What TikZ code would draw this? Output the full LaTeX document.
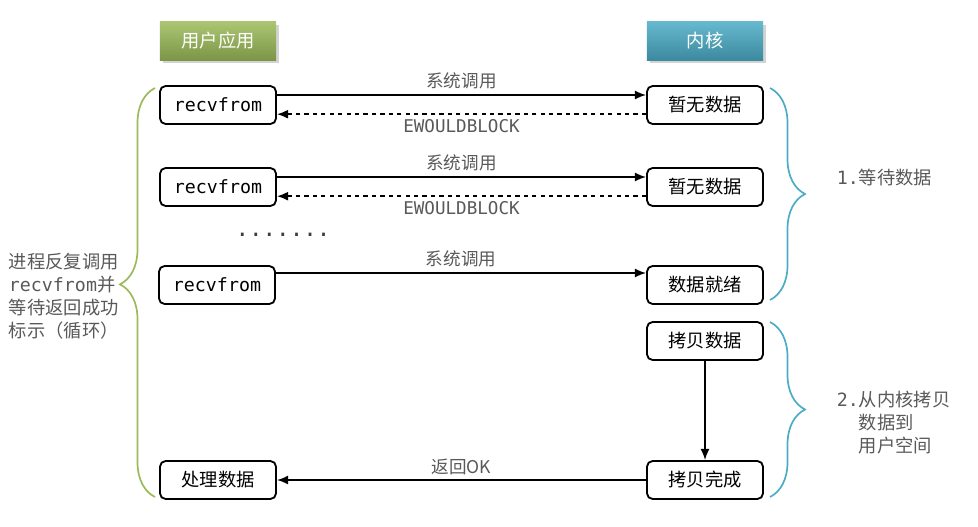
\documentclass[tikz,border=0pt]{standalone}
\usepackage{fontspec}
\setmainfont{Noto Sans CJK SC}
\setmonofont{DejaVu Sans Mono}
\usepackage{tikz}
\usetikzlibrary{shadows,decorations.pathreplacing,arrows.meta}

\definecolor{appgreen}{HTML}{9BBB59}
\definecolor{kerblue}{HTML}{4BACC6}
\definecolor{txtgray}{HTML}{595959}

\begin{document}
\begin{tikzpicture}[x=0.025cm,y=-0.025cm,
    head/.style={minimum width=2.9cm,minimum height=0.95cm,text=white,font=\fontsize{13}{15}\selectfont,
      drop shadow={opacity=0.35,shadow xshift=2pt,shadow yshift=-2pt}},
    box/.style={draw,line width=1.3pt,rounded corners=4pt,minimum width=2.9cm,minimum height=0.95cm,
      fill=white,font=\fontsize{13}{15}\selectfont},
    lbl/.style={text=txtgray,font=\fontsize{12.5}{14}\selectfont},
    call/.style={line width=1.3pt,-{Latex[length=8pt,width=6.5pt]}},
    brc/.style={decorate,decoration={brace,amplitude=0.875cm},line width=1.2pt}]
          \useasboundingbox (0,0) rectangle (978,526);
          % headers
          \node[head,top color=appgreen!85!white,bottom color=appgreen!80!black] (app) at (218,41) {用户应用};
          \node[head,top color=kerblue!85!white,bottom color=kerblue!80!black] (ker) at (705,41) {内核};
          % user side
          \node[box] (rf1) at (218,105) {\texttt{recvfrom}};
          \node[box] (rf2) at (218,187) {\texttt{recvfrom}};
          \node[box] (rf3) at (217,285) {\texttt{recvfrom}};
          \node[box] (proc) at (218,480) {处理数据};
          % kernel side
          \node[box] (kn1) at (705,105) {暂无数据};
          \node[box] (kn2) at (705,187) {暂无数据};
          \node[box] (ready) at (705,285) {数据就绪};
          \node[box] (copy) at (705,341) {拷贝数据};
          \node[box] (done) at (705,480) {拷贝完成};
          \node[text=txtgray!70!black,font=\fontsize{16}{18}\selectfont] (dots) at (283,235) {\texttt{.......}};
          % calls
          \draw[call] ([yshift=0.25cm]rf1.east)--([yshift=0.25cm]kn1.west) node[lbl,midway,above]{系统调用};
          \draw[call,dashed] ([yshift=-0.23cm]kn1.west)--([yshift=-0.23cm]rf1.east) node[lbl,midway,below]{\texttt{EWOULDBLOCK}};
          \draw[call] ([yshift=0.25cm]rf2.east)--([yshift=0.25cm]kn2.west) node[lbl,midway,above]{系统调用};
          \draw[call,dashed] ([yshift=-0.23cm]kn2.west)--([yshift=-0.23cm]rf2.east) node[lbl,midway,below]{\texttt{EWOULDBLOCK}};
          \draw[call] ([yshift=0.3cm]rf3.east)--([yshift=0.3cm]ready.west) node[lbl,midway,above]{系统调用};
          \draw[call] (copy.south)--(done.north);
          \draw[call] (done.west)--(proc.east) node[lbl,midway,above]{返回OK};
          % braces
          \draw[brc,appgreen,decoration={aspect=0.52}] (155,497)--(155,88);
          \draw[brc,kerblue] (770,88)--(770,300);
          \draw[brc,kerblue] (770,322)--(770,497);
          \node[lbl,anchor=west,align=left,font=\fontsize{13}{16.5}\selectfont] (loop) at (4,296)
            {进程反复调用\\\texttt{recvfrom}并\\等待返回成功\\标示（循环）};
          \node[lbl,anchor=west,font=\fontsize{13}{16.5}\selectfont] (wait) at (832,178) {\texttt{1.}等待数据};
          \node[lbl,anchor=north west,align=left,font=\fontsize{13}{16.5}\selectfont] (copytxt) at (832,386)
            {\texttt{2.}从内核拷贝\\\hphantom{\texttt{2.}}数据到\\\hphantom{\texttt{2.}}用户空间};
\end{tikzpicture}
\end{document}
